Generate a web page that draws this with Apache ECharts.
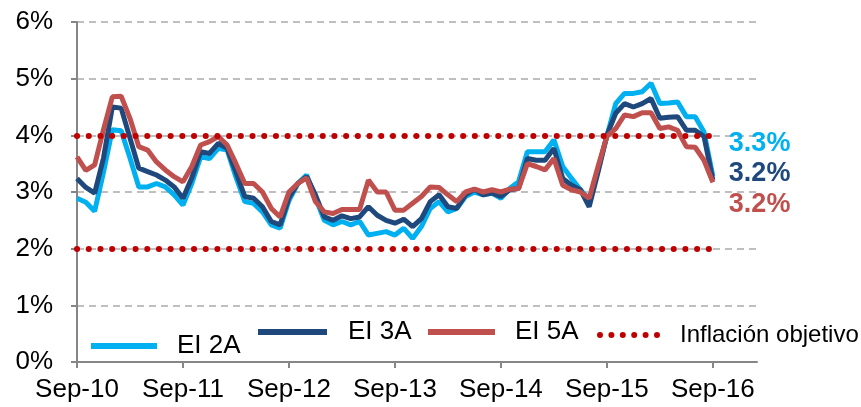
<!DOCTYPE html>
<html>
<head>
<meta charset="utf-8">
<script src="https://cdn.jsdelivr.net/npm/echarts@6/dist/echarts.min.js"></script>
<style>
  html, body { margin: 0; padding: 0; background: #fff; }
  #main { width: 861px; height: 407px; }
</style>
</head>
<body>
<div id="main"></div>
<script>
// monthly categories Sep-10 .. Feb-17 (axis runs a few months past the data)
var monthNames = ["Jan", "Feb", "Mar", "Apr", "May", "Jun", "Jul", "Aug", "Sep", "Oct", "Nov", "Dec"];
var categories = [];
for (var k = 0; k < 78; k++) {
  var m = (8 + k) % 12;
  var yr = 10 + Math.floor((8 + k) / 12);
  categories.push(monthNames[m] + "-" + yr);
}

// break-even inflation, % (Sep-10 .. Sep-16)
var ei2a = [
  2.89, 2.82, 2.66, 3.35, 4.10, 4.08, 3.60, 3.09, 3.09, 3.15,
  3.09, 2.95, 2.77, 3.15, 3.62, 3.59, 3.77, 3.74, 3.26, 2.83,
  2.80, 2.65, 2.42, 2.36, 2.85, 3.15, 3.30, 2.90, 2.50, 2.42,
  2.48, 2.42, 2.48, 2.24, 2.27, 2.30, 2.24, 2.36, 2.18, 2.39,
  2.71, 2.83, 2.65, 2.71, 2.92, 3.00, 2.95, 2.98, 2.89, 3.06,
  3.18, 3.71, 3.71, 3.71, 3.92, 3.45, 3.24, 3.04, 2.86, 3.40,
  3.98, 4.56, 4.74, 4.74, 4.77, 4.92, 4.56, 4.57, 4.59, 4.33,
  4.33, 4.06, 3.28
];
var ei3a = [
  3.24, 3.08, 2.98, 3.60, 4.50, 4.48, 3.95, 3.42, 3.36, 3.30,
  3.21, 3.09, 2.89, 3.25, 3.71, 3.68, 3.86, 3.77, 3.35, 2.92,
  2.89, 2.74, 2.48, 2.42, 2.90, 3.15, 3.27, 2.95, 2.56, 2.50,
  2.58, 2.53, 2.56, 2.74, 2.59, 2.50, 2.45, 2.52, 2.39, 2.53,
  2.83, 2.95, 2.74, 2.71, 2.95, 3.05, 2.95, 2.98, 2.92, 3.04,
  3.06, 3.59, 3.56, 3.56, 3.77, 3.24, 3.12, 3.04, 2.74, 3.35,
  4.00, 4.39, 4.56, 4.50, 4.56, 4.65, 4.30, 4.32, 4.33, 4.09,
  4.09, 3.98, 3.21
];
var ei5a = [
  3.62, 3.38, 3.48, 4.10, 4.68, 4.69, 4.30, 3.80, 3.74, 3.53,
  3.39, 3.27, 3.18, 3.45, 3.83, 3.89, 3.98, 3.83, 3.50, 3.15,
  3.15, 3.00, 2.71, 2.56, 3.00, 3.15, 3.25, 2.83, 2.65, 2.62,
  2.69, 2.69, 2.69, 3.21, 3.00, 3.00, 2.68, 2.68, 2.80, 2.92,
  3.09, 3.08, 2.95, 2.83, 3.00, 3.05, 3.00, 3.04, 3.00, 3.05,
  3.06, 3.50, 3.45, 3.39, 3.59, 3.12, 3.04, 3.00, 2.89, 3.45,
  3.98, 4.12, 4.36, 4.33, 4.40, 4.40, 4.12, 4.15, 4.09, 3.80,
  3.79, 3.56, 3.17
];
var targetBand = [2, 4];          // inflación objetivo: 2% - 4%
var endLabels = ["3.3%", "3.2%", "3.2%"];

var FONT = "Liberation Sans, Arial, sans-serif";
var C2 = "#00B0F0", C3 = "#1F497D", C5 = "#C0504D", CT = "#C00000";

// six round dots for the dotted legend key
var dotsIcon = "path://";
for (var d = 0; d < 6; d++) {
  var cx = 3 + d * 11.4;
  dotsIcon += "M" + (cx - 3) + ",3a3,3 0 1,0 6,0a3,3 0 1,0 -6,0z";
}

var myChart = echarts.init(document.getElementById("main"));

function eiSeries(name, data, color, lbl, off) {
  return {
    name: name,
    type: "line",
    data: data,
    symbol: "none",
    showSymbol: false,
    lineStyle: { color: color, width: 5 },
    itemStyle: { color: color },
    endLabel: {
      show: true,
      formatter: lbl,
      color: color,
      fontSize: 27,
      fontWeight: "bold",
      fontFamily: FONT,
      offset: off
    }
  };
}

function legendItem(name, left, top, w, h, icon, fs, pad) {
  return {
    data: [{ name: name, icon: icon }],
    left: left, top: top, padding: 0,
    itemWidth: w, itemHeight: h,
    textStyle: { fontSize: fs, fontFamily: FONT, color: "#000", padding: pad }
  };
}

var lastCat = categories[ei2a.length - 1];
var option = {
  animation: false,
  backgroundColor: "#fff",
  grid: { left: 77, right: 104, top: 22, bottom: 45 },
  legend: [
    legendItem("EI 2A", 91, 333, 66, 6, "rect", 26, [0, 0, 0, 15]),
    legendItem("EI 3A", 258, 319, 69, 6, "rect", 26, [0, 0, 28, 16]),
    legendItem("EI 5A", 428, 319, 67, 6, "rect", 26, [0, 0, 28, 15]),
    legendItem("Inflación objetivo", 597, 323, 63, 6, dotsIcon, 24, [0, 0, 22, 15])
  ],
  xAxis: {
    type: "category",
    data: categories,
    boundaryGap: false,
    axisLine: { lineStyle: { color: "#868686", width: 2 } },
    axisTick: { show: true, interval: 11, length: 6, lineStyle: { color: "#868686", width: 2 } },
    axisLabel: { interval: 11, color: "#000", fontSize: 26, fontFamily: FONT, margin: 15 },
    splitLine: { show: false }
  },
  yAxis: {
    type: "value",
    min: 0,
    max: 6,
    interval: 1,
    axisLine: { show: true, lineStyle: { color: "#868686", width: 2 } },
    axisTick: { show: true, length: 6, lineStyle: { color: "#868686", width: 2 } },
    axisLabel: { formatter: "{value}%", color: "#000", fontSize: 26, fontFamily: FONT, margin: 24 },
    splitLine: { show: true, lineStyle: { color: "#BFBFBF", width: 2, type: [7, 5] } }
  },
  series: [
    eiSeries("EI 2A", ei2a, C2, endLabels[0], [8, -33]),
    eiSeries("EI 3A", ei3a, C3, endLabels[1], [8, -7]),
    eiSeries("EI 5A", ei5a, C5, endLabels[2], [8, 22]),
    {
      name: "Inflación objetivo",
      type: "line",
      data: [],
      symbol: "none",
      lineStyle: { color: CT, width: 6, type: [0.1, 11.9], cap: "round" },
      itemStyle: { color: CT },
      markLine: {
        silent: true,
        symbol: ["none", "none"],
        label: { show: false },
        lineStyle: { color: CT, width: 6, type: [0.1, 11.6], cap: "round" },
        data: targetBand.map(function (v) {
          return [{ coord: [categories[0], v] }, { coord: [lastCat, v] }];
        })
      }
    }
  ]
};
myChart.setOption(option);
</script>
</body>
</html>
